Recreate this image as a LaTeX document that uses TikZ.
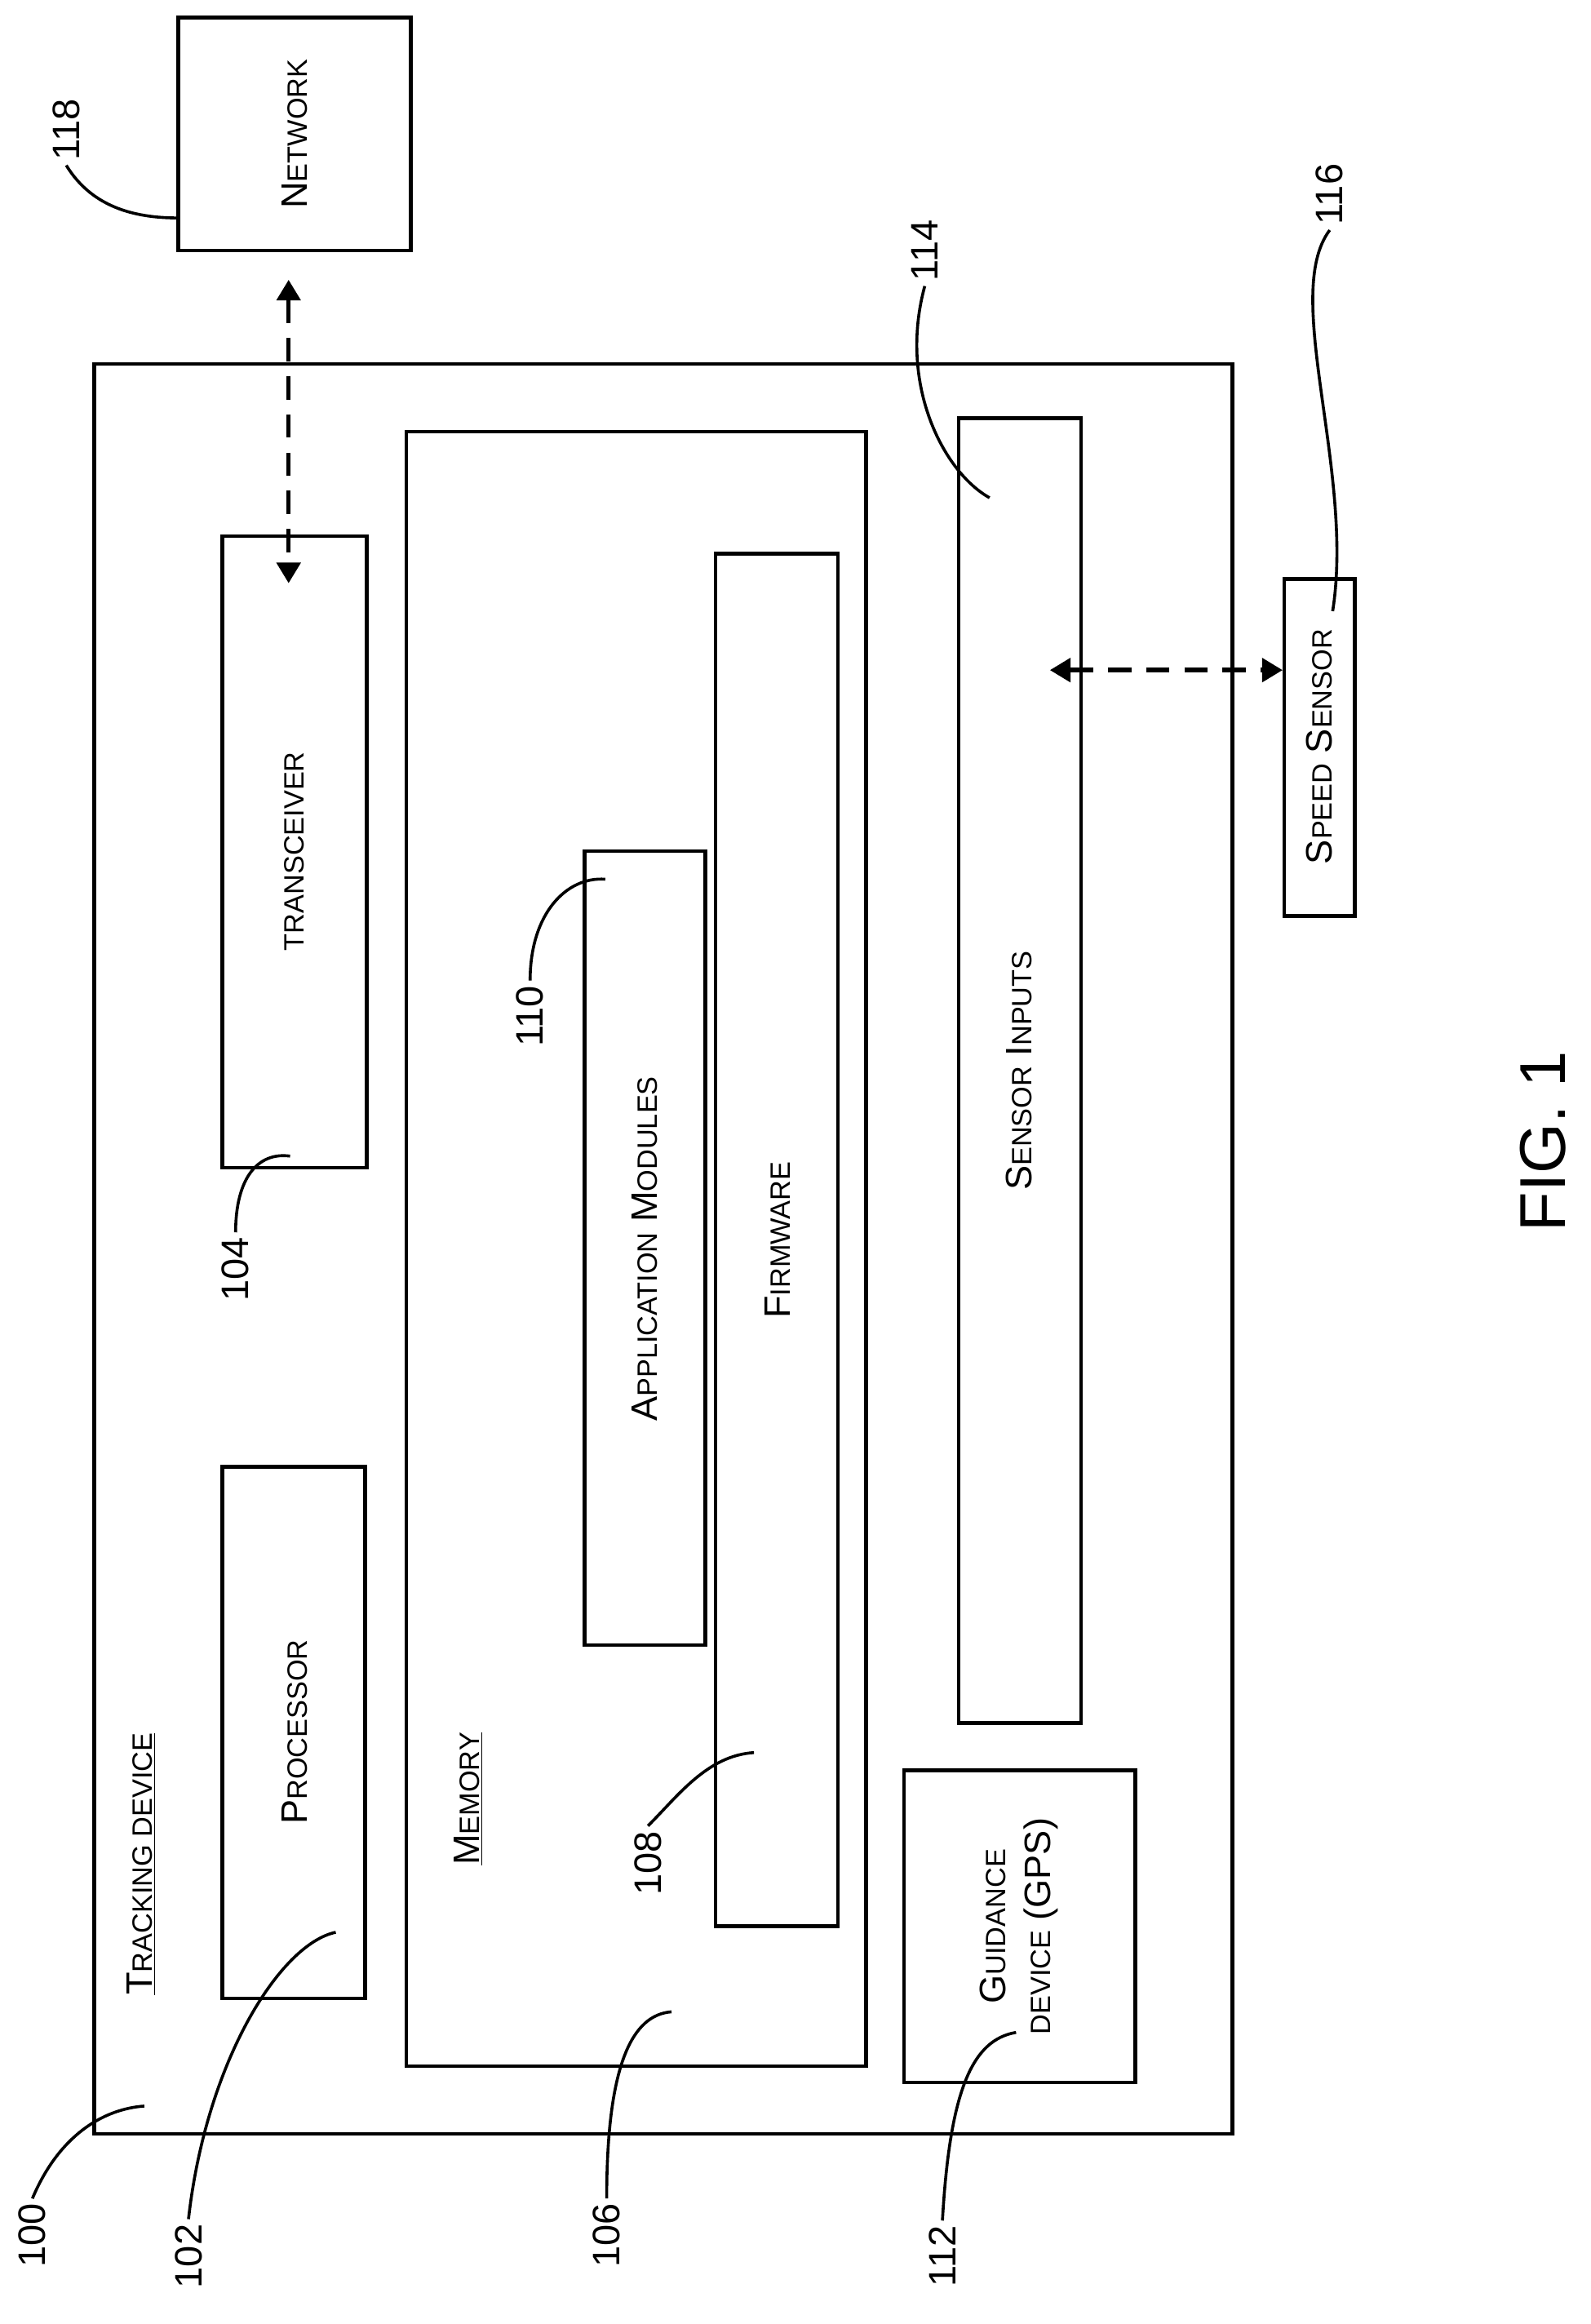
\documentclass[tikz,border=0pt]{standalone}
\usepackage{fontspec}
\setmainfont{Liberation Sans}
\usetikzlibrary{arrows.meta}
\newcommand\SCx[2]{#1{\fontsize{19}{22}\selectfont #2}}
\begin{document}
\begin{tikzpicture}[x=1pt,y=-1pt,
  box/.style={draw,line width=2.5pt},
  txt/.style={rotate=90,font=\fontsize{25}{30}\selectfont,align=center},
  num/.style={rotate=90,font=\fontsize{26}{30}\selectfont},
  lead/.style={line width=2pt},
  darrow/.style={line width=3pt,dash pattern=on 16pt off 10pt,{Triangle[length=14pt,width=16pt]}-{Triangle[length=14pt,width=16pt]}}]
\useasboundingbox (0,0) rectangle (1080,1578);
\draw[box] (64,247) rectangle (837,1449);
\draw[box] (121,12) rectangle (279,170);
\draw[box] (151,364) rectangle (249,793);
\draw[box] (151,996) rectangle (248,1357);
\draw[box] (276,293) rectangle (588,1403);
\draw[box] (486,376) rectangle (569,1308);
\draw[box] (397,578) rectangle (479,1117);
\draw[box] (651,284) rectangle (734,1170);
\draw[box] (614,1202) rectangle (771,1414);
\draw[box] (872,393) rectangle (920,622);
\node[txt] (net) at (200,91) {\SCx{N}{ETWORK}};
\node[txt] (trx) at (200,578) {{\fontsize{19}{22}\selectfont TRANSCEIVER}};
\node[txt] (proc) at (200,1176) {\SCx{P}{ROCESSOR}};
\node[txt] (apps) at (438,848) {\SCx{A}{PPLICATION} \SCx{M}{ODULES}};
\node[txt] (fw) at (528,842) {\SCx{F}{IRMWARE}};
\node[txt] (sens) at (692,727) {\SCx{S}{ENSOR} \SCx{I}{NPUTS}};
\node[txt] (gps) at (692,1308) {\SCx{G}{UIDANCE}\\ {\fontsize{19}{22}\selectfont DEVICE} (GPS)};
\node[txt] (spd) at (896,507) {\SCx{S}{PEED} \SCx{S}{ENSOR}};
\node[txt,anchor=west] (trk) at (96,1358) {\underline{\SCx{T}{RACKING DEVICE}}};
\node[txt,anchor=west] (mem) at (318,1270) {\underline{\SCx{M}{EMORY}}};
\node[rotate=90,font=\fontsize{44}{50}\selectfont] (fig) at (1048,775) {FIG. 1};
\coordinate (a1) at (196,190); \coordinate (a2) at (196,396);
\draw[darrow] (a1) -- (a2);
\coordinate (b1) at (713,455); \coordinate (b2) at (871,455);
\draw[darrow] (b1) -- (b2);
\node[num] (n118) at (45,88) {118};
\node[num] (n116) at (903,132) {116};
\node[num] (n114) at (628,170) {114};
\node[num] (n104) at (160,862) {104};
\node[num] (n110) at (360,690) {110};
\node[num] (n108) at (440,1265) {108};
\node[num] (n100) at (22,1518) {100};
\node[num] (n102) at (128,1532) {102};
\node[num] (n106) at (412,1518) {106};
\node[num] (n112) at (640,1532) {112};
\coordinate (t118) at (121,148); \coordinate (t116) at (905,415);
\coordinate (t114) at (672,338); \coordinate (t104) at (197,785);
\coordinate (t110) at (411,597); \coordinate (t108) at (512,1190);
\coordinate (t100) at (98,1430); \coordinate (t102) at (228,1312);
\coordinate (t106) at (456,1366); \coordinate (t112) at (690,1380);
\draw[lead] (n118.west) .. controls (62,140) and (90,148) .. (t118);
\draw[lead] (n116.west) .. controls (870,200) and (920,320) .. (t116);
\draw[lead] (n114.west) .. controls (610,260) and (640,320) .. (t114);
\draw[lead] (n104.east) .. controls (160,800) and (175,782) .. (t104);
\draw[lead] (n110.east) .. controls (360,620) and (385,595) .. (t110);
\draw[lead] (n108.east) .. controls (460,1220) and (480,1192) .. (t108);
\draw[lead] (n100.east) .. controls (40,1450) and (70,1432) .. (t100);
\draw[lead] (n102.east) .. controls (140,1400) and (190,1320) .. (t102);
\draw[lead] (n106.east) .. controls (412,1400) and (430,1368) .. (t106);
\draw[lead] (n112.east) .. controls (645,1420) and (660,1385) .. (t112);
\end{tikzpicture}
\end{document}
